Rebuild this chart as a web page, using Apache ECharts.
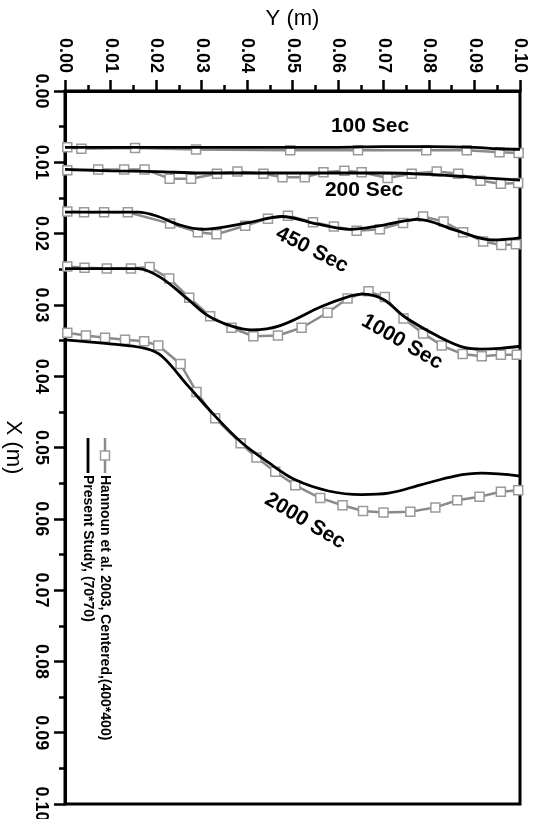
<!DOCTYPE html>
<html>
<head>
<meta charset="utf-8">
<script src="https://cdn.jsdelivr.net/npm/echarts@6/dist/echarts.min.js"></script>
<style>
  html, body { margin: 0; padding: 0; background: #fff; }
  #chart { width: 540px; height: 819px; }
</style>
</head>
<body>
<div id="chart"></div>
<script>
// Interface position X (m) along the cavity width Y (m) at five times.

const tickLabels = ['0.00', '0.01', '0.02', '0.03', '0.04', '0.05', '0.06', '0.07', '0.08', '0.09', '0.10'];
const timeLabels = ['100 Sec', '200 Sec', '450 Sec', '1000 Sec', '2000 Sec'];
const legendNames = ['Hannoun et al. 2003, Centered,(400*400)', 'Present Study, (70*70)'];

// 100 s
const yPresent100 = [0, 0.01, 0.02, 0.03, 0.04, 0.05, 0.06, 0.07, 0.08, 0.09, 0.095, 0.1];
const xPresent100 = [0.0079, 0.0079, 0.0079, 0.0079, 0.0079, 0.0079, 0.0079, 0.0078, 0.0078, 0.0079, 0.0081, 0.0082];
const yHannoun100 = [0.0005, 0.0036, 0.0154, 0.0288, 0.0495, 0.0644, 0.0794, 0.0883, 0.0955, 0.0997];
const xHannoun100 = [0.0079, 0.0081, 0.0080, 0.0082, 0.0083, 0.0083, 0.0083, 0.0083, 0.0086, 0.0087];

// 200 s
const yPresent200 = [0, 0.01, 0.02, 0.03, 0.04, 0.05, 0.06, 0.07, 0.08, 0.09, 0.1];
const xPresent200 = [0.0110, 0.0112, 0.0113, 0.0115, 0.0115, 0.0115, 0.0115, 0.0115, 0.0117, 0.0121, 0.0125];
const yHannoun200 = [0.0005, 0.0073, 0.0130, 0.0175, 0.0230, 0.0277, 0.0334, 0.0379, 0.0436, 0.0478, 0.0527,
                     0.0568, 0.0614, 0.0652, 0.0709, 0.0762, 0.0817, 0.0864, 0.0913, 0.0958, 0.0996];
const xHannoun200 = [0.0111, 0.0110, 0.0110, 0.0110, 0.0123, 0.0123, 0.0116, 0.0113, 0.0116, 0.0121, 0.0121,
                     0.0114, 0.0112, 0.0114, 0.0122, 0.0116, 0.0113, 0.0116, 0.0126, 0.0130, 0.0129];

// 450 s
const yPresent450 = [0, 0.01, 0.016, 0.02, 0.0248, 0.03, 0.04, 0.0477, 0.055, 0.0626, 0.07, 0.0776, 0.0857, 0.094, 0.1];
const xPresent450 = [0.0170, 0.0170, 0.0170, 0.0175, 0.0187, 0.0194, 0.0185, 0.0176, 0.0186, 0.0194, 0.0188, 0.0180, 0.0195, 0.0209, 0.0206];
const yHannoun450 = [0.0005, 0.0042, 0.0086, 0.0138, 0.0231, 0.0292, 0.0333, 0.0396, 0.0446, 0.0490, 0.0545,
                     0.0591, 0.0641, 0.0692, 0.0743, 0.0787, 0.0832, 0.0875, 0.0919, 0.0959, 0.0991];
const xHannoun450 = [0.0169, 0.0170, 0.0170, 0.0170, 0.0186, 0.0198, 0.0201, 0.0189, 0.0179, 0.0175, 0.0184,
                     0.0190, 0.0196, 0.0194, 0.0185, 0.0176, 0.0183, 0.0198, 0.0211, 0.0216, 0.0215];

// 1000 s
const yPresent1000 = [0, 0.01, 0.016, 0.0209, 0.027, 0.0314, 0.0363, 0.0411, 0.0473, 0.0565, 0.062, 0.0653,
                      0.0699, 0.0747, 0.082, 0.0879, 0.0916, 0.0956, 0.1];
const xPresent1000 = [0.0249, 0.0249, 0.0249, 0.0261, 0.0292, 0.0315, 0.0329, 0.0335, 0.0329, 0.0302, 0.0289, 0.0285,
                      0.0292, 0.0317, 0.0344, 0.0360, 0.0362, 0.0361, 0.0358];
const yHannoun1000 = [0.0005, 0.0043, 0.0092, 0.0145, 0.0186, 0.0229, 0.0273, 0.0319, 0.0366, 0.0414, 0.0468, 0.0520,
                      0.0577, 0.0621, 0.0667, 0.0703, 0.0744, 0.0787, 0.0828, 0.0874, 0.0916, 0.0958, 0.0993];
const xHannoun1000 = [0.0246, 0.0248, 0.0249, 0.0249, 0.0247, 0.0263, 0.0290, 0.0316, 0.0332, 0.0344, 0.0343, 0.0332,
                      0.0311, 0.0291, 0.0281, 0.0289, 0.0319, 0.0340, 0.0357, 0.0369, 0.0372, 0.0370, 0.0370];

// 2000 s
const yPresent2000 = [0, 0.0088, 0.0176, 0.0213, 0.0271, 0.0330, 0.0388, 0.0447, 0.0505, 0.0579, 0.0652, 0.0711,
                      0.0784, 0.0857, 0.0916, 0.1];
const xPresent2000 = [0.0349, 0.0354, 0.0361, 0.0372, 0.0414, 0.0456, 0.0493, 0.0521, 0.0545, 0.0561, 0.0566, 0.0564,
                      0.0552, 0.0540, 0.0536, 0.0540];
const yHannoun2000 = [0.0005, 0.0046, 0.0088, 0.0132, 0.0174, 0.0205, 0.0254, 0.0289, 0.0330, 0.0386, 0.0421, 0.0462,
                      0.0506, 0.0561, 0.0610, 0.0655, 0.0700, 0.0759, 0.0814, 0.0862, 0.0911, 0.0958, 0.0996];
const xHannoun2000 = [0.0339, 0.0343, 0.0346, 0.0349, 0.0351, 0.0357, 0.0383, 0.0422, 0.0459, 0.0494, 0.0514, 0.0534,
                      0.0553, 0.0571, 0.0581, 0.0589, 0.0591, 0.0590, 0.0584, 0.0574, 0.0569, 0.0562, 0.0560];

const FONT = '"Liberation Sans", Arial, Helvetica, sans-serif';
const zip = (a, b) => a.map((v, i) => [v, b[i]]);

const hannounSets = [
  [yHannoun100, xHannoun100], [yHannoun200, xHannoun200], [yHannoun450, xHannoun450],
  [yHannoun1000, xHannoun1000], [yHannoun2000, xHannoun2000]
];
const presentSets = [
  [yPresent100, xPresent100], [yPresent200, xPresent200], [yPresent450, xPresent450],
  [yPresent1000, xPresent1000], [yPresent2000, xPresent2000]
];

const series = [];
hannounSets.forEach(([ys, xs], i) => {
  series.push({
    name: legendNames[0] + ' ' + timeLabels[i],
    type: 'line',
    data: zip(ys, xs),
    smooth: false,
    symbol: 'rect',
    symbolSize: 9,
    showAllSymbol: true,
    lineStyle: { color: '#8a8a8a', width: 2.5 },
    itemStyle: { color: '#ffffff', borderColor: '#9a9a9a', borderWidth: 1.5 },
    z: 2,
    silent: true,
    animation: false
  });
});
presentSets.forEach(([ys, xs], i) => {
  series.push({
    name: legendNames[1] + ' ' + timeLabels[i],
    type: 'line',
    data: zip(ys, xs),
    smooth: 0.35,
    symbol: 'none',
    lineStyle: { color: '#000000', width: 2.8 },
    z: 3,
    silent: true,
    animation: false
  });
});

// Curve captions (pixel placement, rotation in degrees clockwise)
const captionPlaces = [
  { x: 370, y: 126, rot: 0 },
  { x: 364, y: 190, rot: 0 },
  { x: 312, y: 250, rot: 27 },
  { x: 402, y: 342, rot: 30 },
  { x: 305, y: 521, rot: 31 }
];
const captions = timeLabels.map((t, i) => ({
  type: 'text',
  x: captionPlaces[i].x,
  y: captionPlaces[i].y,
  rotation: -captionPlaces[i].rot * Math.PI / 180,
  z: 10,
  style: {
    text: t,
    font: 'bold 21px ' + FONT,
    fill: '#000',
    align: 'center',
    verticalAlign: 'middle',
    textAlign: 'center',
    textVerticalAlign: 'middle'
  }
}));

// Legend, written top-to-bottom beside the left axis
const legendGroup = {
  type: 'group',
  x: 105,
  y: 438,
  rotation: -Math.PI / 2,
  z: 10,
  children: [
    { type: 'line', shape: { x1: 0, y1: 0, x2: 35, y2: 0 }, style: { stroke: '#8a8a8a', lineWidth: 2.5 } },
    { type: 'rect', shape: { x: 13, y: -4.5, width: 9, height: 9 },
      style: { fill: '#fff', stroke: '#9a9a9a', lineWidth: 1.5 } },
    { type: 'text', x: 37, y: 0,
      style: { text: legendNames[0], font: 'bold 14px ' + FONT, fill: '#000',
               align: 'left', verticalAlign: 'middle', textAlign: 'left', textVerticalAlign: 'middle' } },
    { type: 'line', shape: { x1: 0, y1: 17, x2: 35, y2: 17 }, style: { stroke: '#000', lineWidth: 2.8 } },
    { type: 'text', x: 37, y: 17,
      style: { text: legendNames[1], font: 'bold 14px ' + FONT, fill: '#000',
               align: 'left', verticalAlign: 'middle', textAlign: 'left', textVerticalAlign: 'middle' } }
  ]
};

function axisBase(labelMargin) {
  return {
    type: 'value',
    min: 0,
    max: 0.1,
    interval: 0.01,
    splitLine: { show: false },
    axisLine: { show: true, lineStyle: { color: '#000', width: 3 } },
    axisTick: { show: true, length: 11, lineStyle: { color: '#000', width: 2.5 } },
    minorTick: { show: true, splitNumber: 2, length: 6, lineStyle: { color: '#000', width: 2.5 } },
    minorSplitLine: { show: false },
    axisLabel: {
      rotate: -90,
      margin: labelMargin,
      color: '#000',
      fontFamily: FONT,
      fontWeight: 'bold',
      fontSize: 18,
      formatter: (v) => tickLabels[Math.round(v * 100)]
    },
    nameLocation: 'middle',
    nameTextStyle: { color: '#000', fontFamily: FONT, fontSize: 22 }
  };
}

const option = {
  backgroundColor: '#ffffff',
  animation: false,
  grid: {
    left: 65, right: 20, top: 91, bottom: 15,
    containLabel: false,
    outerBoundsMode: 'none',
    show: true, borderColor: '#000', borderWidth: 3, backgroundColor: 'transparent'
  },
  xAxis: Object.assign(axisBase(18), {
    position: 'top',
    name: 'Y (m)',
    nameGap: 55
  }),
  yAxis: Object.assign(axisBase(15), {
    position: 'left',
    inverse: true,
    name: 'X (m)',
    nameRotate: -90,
    nameGap: 35
  }),
  series: series,
  graphic: captions.concat([legendGroup])
};

const chart = echarts.init(document.getElementById('chart'), null, { renderer: 'canvas' });
chart.setOption(option);
</script>
</body>
</html>
